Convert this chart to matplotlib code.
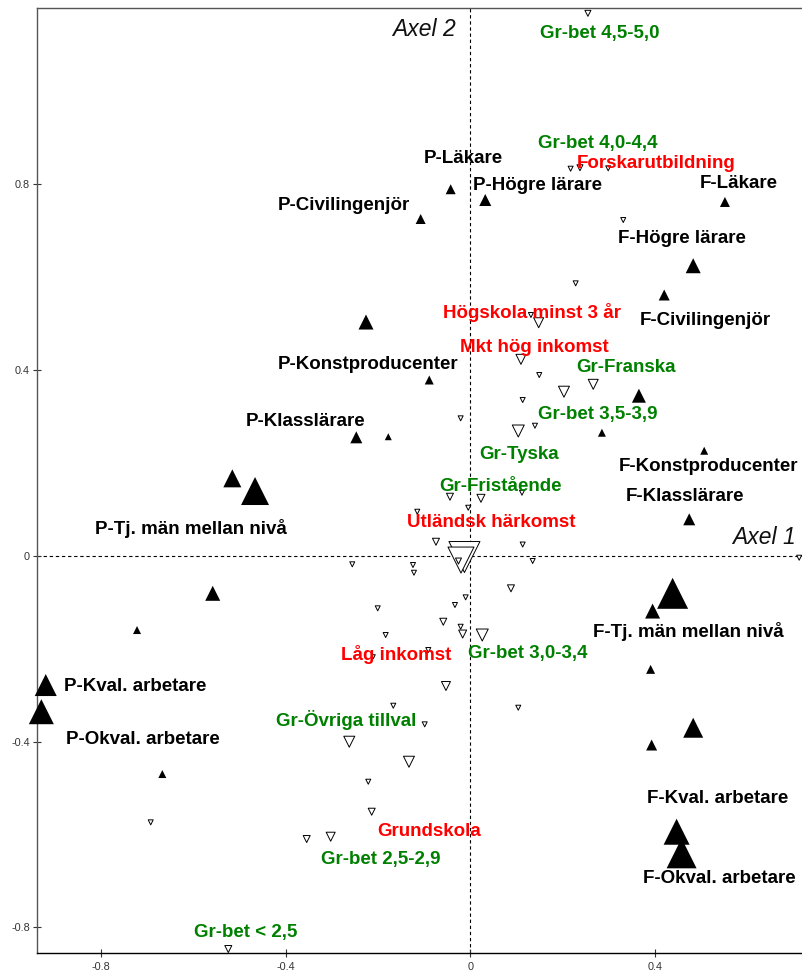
import matplotlib
matplotlib.use("Agg")
import matplotlib.pyplot as plt

# modalities with active (filled) triangles: coordinates on axel 1 / axel 2 and mass
act_x = [-0.0428, 0.0320, -0.1077, 0.5503, 0.4817, 0.4190, -0.2259, -0.0891, 0.3643, 0.2843,
         0.5055, 0.4731, -0.2469, -0.1777, -0.5150, -0.4659, -0.5574, -0.7211, -0.9185, -0.9280,
         -0.6664, 0.4372, 0.3939, 0.3896, 0.4817, 0.3918, 0.4458, 0.4566]
act_y = [0.7890, 0.7658, 0.7249, 0.7616, 0.6243, 0.5613, 0.5031, 0.3783, 0.3445, 0.2648,
         0.2260, 0.0784, 0.2549, 0.2562, 0.1666, 0.1393, -0.0809, -0.1600, -0.2784, -0.3358,
         -0.4700, -0.0809, -0.1191, -0.2446, -0.3703, -0.4075, -0.5942, -0.6407]
act_mass = [10, 12, 10, 10, 15, 11, 15, 9, 14, 8,
            8, 12, 12, 7, 18, 28, 15, 8, 22, 25,
            8, 31, 15, 9, 20, 11, 26, 30]

# supplementary modalities (open triangles)
sup_x = [0.2540, 0.2166, 0.2368, 0.2979, 0.3304, 0.2275, 0.1308, 0.1475, 0.1092, 0.1488,
         0.2655, 0.2022, 0.1129, 0.1395, 0.1034, -0.0212, 0.1114, -0.0443, 0.0227, -0.0048,
         -0.1150, -0.0746, 0.1129, -0.0130, -0.0205, -0.0259, 0.1345, -0.1243, -0.1222, -0.2556,
         0.7109, 0.0876, -0.0104, -0.0335, -0.0588, -0.2006, -0.0212, -0.0169, 0.0255, -0.1834,
         -0.0912, -0.2102, -0.0530, -0.1669, 0.1034, -0.0990, -0.2621, -0.1330, -0.2210, -0.2136,
         -0.3542, -0.3023, -0.6915, -0.5237]
sup_y = [1.1677, 0.8332, 0.8353, 0.8340, 0.7227, 0.5864, 0.5182, 0.5016, 0.4228, 0.3890,
         0.3690, 0.3531, 0.3352, 0.2799, 0.2685, 0.2958, 0.1356, 0.1270, 0.1236, 0.1033,
         0.0947, 0.0301, 0.0241, -0.0028, -0.0093, -0.0114, -0.0114, -0.0200, -0.0366, -0.0185,
         -0.0043, -0.0702, -0.0896, -0.1061, -0.1421, -0.1132, -0.1529, -0.1686, -0.1707, -0.1707,
         -0.2030, -0.2174, -0.2805, -0.3229, -0.3272, -0.3630, -0.4004, -0.4435, -0.4865, -0.5511,
         -0.6099, -0.6049, -0.5740, -0.8467]
sup_mass = [6, 5, 6, 5, 5, 5, 5, 10, 10, 5,
            10, 11, 5, 5, 12, 5, 5, 7, 8, 5,
            5, 7, 5, 31, 26, 6, 5, 5, 5, 5,
            5, 7, 5, 5, 7, 5, 5, 8, 12, 5,
            5, 4, 9, 5, 5, 5, 11, 11, 5, 7,
            7, 9, 5, 7]

# labels: text, axel 1, axel 2 (visual centre), colour group
black_labels = ["P-Läkare", "P-Högre lärare", "P-Civilingenjör", "F-Läkare", "F-Högre lärare",
                "F-Civilingenjör", "P-Konstproducenter", "P-Klasslärare", "P-Tj. män mellan nivå",
                "F-Konstproducenter", "F-Klasslärare", "F-Tj. män mellan nivå", "P-Kval. arbetare",
                "P-Okval. arbetare", "F-Kval. arbetare", "F-Okval. arbetare"]
black_x = [-0.0162, 0.1444, -0.2746, 0.5805, 0.4573, 0.5077, -0.2216, -0.3561, -0.6048,
           0.5146, 0.4645, 0.4709, -0.7261, -0.7077, 0.5347, 0.5388]
black_y = [0.8598, 0.8017, 0.7587, 0.8067, 0.6868, 0.5111, 0.4164, 0.2943, 0.0603,
           0.1974, 0.1328, -0.1600, -0.2762, -0.3910, -0.5173, -0.6911]

red_labels = ["Forskarutbildning", "Högskola minst 3 år", "Mkt hög inkomst",
              "Utländsk härkomst", "Låg inkomst", "Grundskola"]
red_x = [0.4015, 0.1330, 0.1388, 0.0439, -0.1604, -0.0902]
red_y = [0.8482, 0.5253, 0.4536, 0.0769, -0.2101, -0.5884]

green_labels = ["Gr-bet 4,5-5,0", "Gr-bet 4,0-4,4", "Gr-Franska", "Gr-bet 3,5-3,9", "Gr-Tyska",
                "Gr-Fristående", "Gr-bet 3,0-3,4", "Gr-Övriga tillval", "Gr-bet 2,5-2,9",
                "Gr-bet < 2,5"]
green_x = [0.2804, 0.2761, 0.3373, 0.2761, 0.1044, 0.0649, 0.1248, -0.2677, -0.1939, -0.4858]
green_y = [1.1281, 0.8913, 0.4105, 0.3079, 0.2217, 0.1544, -0.2067, -0.3516, -0.6493, -0.8073]

xticks = [-0.8, -0.4, 0, 0.4]
xtick_labels = ["-0.8", "-0.4", "0", "0.4"]
yticks = [-0.8, -0.4, 0, 0.4, 0.8]
ytick_labels = ["-0.8", "-0.4", "0", "0.4", "0.8"]

plt.rcParams['font.family'] = ['Liberation Sans', 'DejaVu Sans']

fig = plt.figure(figsize=(8.02, 9.73), dpi=100)
ax = fig.add_axes([0.0458, 0.0202, 0.9542, 0.9715])
ax.set_xlim(-0.938, 0.717)
ax.set_ylim(-0.856, 1.179)

ax.axhline(0, color='black', lw=0.8, ls=(0, (3, 2.5)), zorder=1)
ax.axvline(0, color='black', lw=0.8, ls=(0, (3, 2.5)), zorder=1)

def pts(m):
    return (m * 0.72) ** 2

# draw biggest first so the small ones stay on top
order = sorted(range(len(sup_x)), key=lambda i: -sup_mass[i])
ax.scatter([sup_x[i] for i in order], [sup_y[i] for i in order],
           s=[pts(sup_mass[i]) for i in order], marker='v',
           facecolors='white', edgecolors='black', linewidths=0.7, zorder=2, clip_on=False)
ax.scatter(act_x, act_y, s=[pts(m) for m in act_mass], marker='^',
           color='black', linewidths=0, zorder=3, clip_on=False)

for lab, x, y in zip(black_labels, black_x, black_y):
    ax.text(x, y - 0.014, lab, color='black', fontsize=13.5, fontweight='bold',
            ha='center', va='baseline', zorder=4)
for lab, x, y in zip(red_labels, red_x, red_y):
    ax.text(x, y - 0.014, lab, color='#ff0000', fontsize=13.5, fontweight='bold',
            ha='center', va='baseline', zorder=4)
for lab, x, y in zip(green_labels, green_x, green_y):
    ax.text(x, y - 0.014, lab, color='#008000', fontsize=13.5, fontweight='bold',
            ha='center', va='baseline', zorder=4)

ax.text(-0.1005, 1.1354 - 0.017, "Axel 2", fontsize=16.5, style='italic',
        ha='center', va='baseline', color='#111111')
ax.text(0.6346, 0.0424 - 0.017, "Axel 1", fontsize=16.5, style='italic',
        ha='center', va='baseline', color='#111111')

ax.set_xticks(xticks)
ax.set_xticklabels(xtick_labels)
ax.set_yticks(yticks)
ax.set_yticklabels(ytick_labels)
ax.tick_params(axis='both', direction='inout', length=6, width=0.8, labelsize=7.8,
               labelcolor='#333333', color='#333333')
ax.tick_params(axis='x', pad=3)
ax.tick_params(axis='y', pad=2)

ax.spines['right'].set_visible(False)
for side in ['left', 'top']:
    ax.spines[side].set_color('#555555')
    ax.spines[side].set_linewidth(1.0)
ax.spines['bottom'].set_color('black')
ax.spines['bottom'].set_linewidth(1.0)

fig.savefig("out.png", dpi=100)
